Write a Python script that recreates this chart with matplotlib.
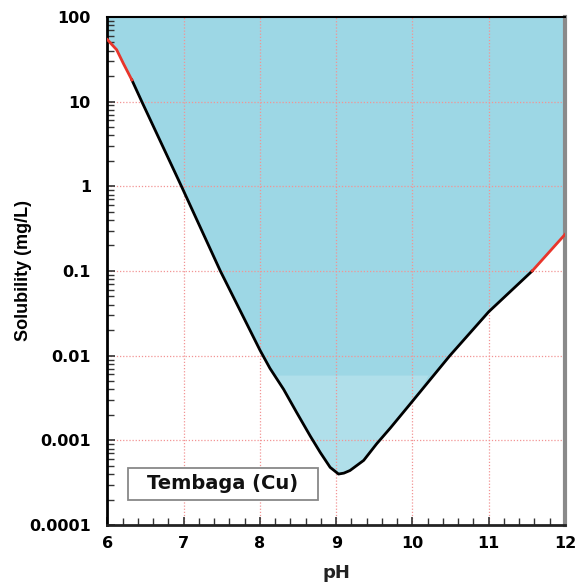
import numpy as np
import matplotlib
matplotlib.use("Agg")
import matplotlib.pyplot as plt
from matplotlib.patches import Rectangle
from matplotlib.ticker import LogLocator, MultipleLocator, NullFormatter, FixedLocator

plt.rcParams['font.family'] = ['DejaVu Sans']
plt.rcParams['font.weight'] = 'bold'

# kurvan (pH, löslighet mg/L)
ph = [6.0, 6.05, 6.12, 6.21, 6.32, 6.45, 6.97, 7.48, 8.0, 8.13, 8.31, 8.48, 8.66,
      8.79, 8.92, 9.03, 9.1, 9.18, 9.36, 9.53, 9.71, 10.0, 10.49, 11.0, 11.57, 12.0]
sol = [54, 48, 41, 28, 18, 10, 1.0, 0.1, 0.0116, 0.0071, 0.0040, 0.00214, 0.00112,
       0.00072, 0.00048, 0.00040, 0.00041, 0.00044, 0.00058, 0.00091, 0.0014,
       0.0029, 0.01, 0.033, 0.1, 0.27]

# röda bitar i ändarna
red_left_end = 6.32
red_right_start = 11.57

band_level = 0.0059
y_ticks = [0.0001, 0.001, 0.01, 0.1, 1, 10, 100]
y_labels = ["0.0001", "0.001", "0.01", "0.1", "1", "10", "100"]
x_ticks = [6, 7, 8, 9, 10, 11, 12]
legend_text = "Tembaga (Cu)"

ph = np.array(ph)
sol = np.array(sol)

fig = plt.figure(figsize=(5.76, 5.84), dpi=100)
ax = fig.add_axes([0.1866, 0.101, 0.7943, 0.870])

dark = "#9dd7e5"
light = "#b0dfea"

# fyllning ovanför kurvan
ax.fill_between(ph, sol, 100, color=dark, lw=0, zorder=1)
ax.fill_between(ph, sol, band_level, where=sol < band_level, interpolate=True,
                color=light, lw=0, zorder=1.1)

# rutnät
for xv in x_ticks[1:-1]:
    ax.axvline(xv, color="#f29494", ls=(0, (1, 1.5)), lw=0.9, zorder=1.5)
for yv in y_ticks[1:-1]:
    ax.axhline(yv, color="#f29494", ls=(0, (1, 1.5)), lw=0.9, zorder=1.5)

left = ph <= red_left_end
right = ph >= red_right_start
mid = (ph >= red_left_end) & (ph <= red_right_start)
ax.plot(ph[mid], sol[mid], color="black", lw=2, zorder=3, solid_joinstyle="round")
ax.plot(ph[left], sol[left], color="#e8352b", lw=2, zorder=3, solid_joinstyle="round")
ax.plot(ph[right], sol[right], color="#e8352b", lw=2, zorder=3)

ax.set_yscale("log")
ax.set_xlim(6, 12)
ax.set_ylim(0.0001, 100)

ax.yaxis.set_major_locator(FixedLocator(y_ticks))
ax.set_yticklabels(y_labels)
ax.yaxis.set_minor_locator(LogLocator(base=10, subs=np.arange(2, 10)))
ax.yaxis.set_minor_formatter(NullFormatter())
ax.set_xticks(x_ticks)
ax.xaxis.set_minor_locator(MultipleLocator(0.2))

ax.tick_params(axis="both", which="both", direction="in", top=False, right=False,
               color="#333333")
ax.tick_params(axis="both", which="major", length=6, width=1.2, labelsize=11.5)
ax.tick_params(axis="both", which="minor", length=5, width=1.0)
ax.tick_params(axis="y", which="major", pad=12)
ax.tick_params(axis="x", which="major", pad=8)

for lab in ax.get_xticklabels() + ax.get_yticklabels():
    lab.set_fontweight("bold")

ax.spines["left"].set_linewidth(2)
ax.spines["bottom"].set_linewidth(2)
ax.spines["bottom"].set_color("#222222")
ax.spines["top"].set_linewidth(1.5)
ax.spines["right"].set_linewidth(3)
ax.spines["right"].set_color("#8a8a8a")

ax.set_xlabel("pH", fontsize=13, fontweight="bold", color="#222222", labelpad=9)
ax.set_ylabel("Solubility (mg/L)", fontsize=13, fontweight="bold",
              family="Liberation Sans")
ax.yaxis.set_label_coords(-0.165, 0.5)

# rutan med namnet
ax.add_patch(Rectangle((0.045, 0.049), 0.415, 0.063, transform=ax.transAxes,
                       fc="white", ec="#888888", lw=1.3, zorder=5))
ax.text(0.2525, 0.081, legend_text, transform=ax.transAxes, ha="center", va="center",
        fontsize=14, fontweight="bold", color="#111111", zorder=6)

fig.savefig("out.png", dpi=100)
